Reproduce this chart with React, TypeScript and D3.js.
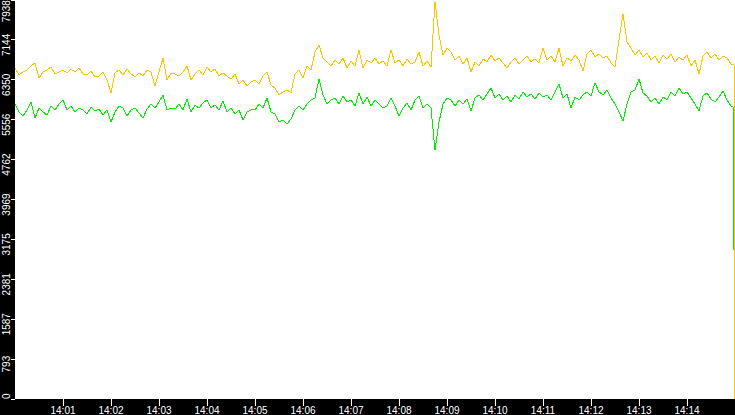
import React, { useEffect } from "react";
import * as d3 from "d3";

const WIDTH = 735;
const HEIGHT = 415;
const STEP_SECONDS = 5;
const START = new Date(2020, 0, 1, 14, 0, 0);
const END = new Date(2020, 0, 1, 14, 15, 0);
const Y_MAX = 7938;

const Y_TICK_VALUES = [0, 793.8, 1587.6, 2381.4, 3175.2, 3969, 4762.8, 5556.6, 6350.4, 7144.2, 7938];
const Y_TICK_LABELS = ["0", "793", "1587", "2381", "3175", "3969", "4762", "5556", "6350", "7144", "7938"];
const X_TICK_LABELS = ["14:01", "14:02", "14:03", "14:04", "14:05", "14:06", "14:07", "14:08", "14:09", "14:10", "14:11", "14:12", "14:13", "14:14"];

// samples every 5 seconds from 14:00:00
const YELLOW = [
  6585, 6446, 6506, 6545, 6625, 6685, 6386, 6506, 6545, 6605,
  6466, 6506, 6545, 6486, 6565, 6506, 6585, 6466, 6446, 6526,
  6406, 6426, 6506, 6347, 6088, 6486, 6545, 6446, 6565, 6466,
  6406, 6486, 6426, 6545, 6506, 6227, 6506, 6784, 6347, 6486,
  6466, 6426, 6506, 6625, 6347, 6466, 6545, 6446, 6605, 6506,
  6565, 6426, 6486, 6426, 6366, 6466, 6267, 6347, 6227, 6307,
  6347, 6267, 6426, 6506, 6247, 6187, 6048, 6108, 6148, 6088,
  6466, 6545, 6386, 6625, 6545, 6904, 7043, 6784, 6705, 6625,
  6744, 6665, 6784, 6585, 6725, 6625, 6943, 6585, 6744, 6685,
  6784, 6665, 6725, 6625, 6943, 6685, 6744, 6625, 6764, 6665,
  6705, 6904, 6625, 6725, 6605, 7898, 7242, 6844, 6983, 6904,
  6744, 6824, 6665, 6784, 6506, 6705, 6625, 6764, 6705, 6844,
  6725, 6784, 6685, 6585, 6705, 6784, 6665, 6744, 6824, 6705,
  6764, 6685, 6983, 6744, 6824, 6705, 6983, 6625, 6784, 6725,
  6844, 6744, 6526, 6864, 6943, 6804, 6864, 6784, 6824, 6685,
  6605, 7142, 7660, 7102, 6983, 6844, 6943, 6804, 6884, 6744,
  6824, 6685, 6844, 6764, 6864, 6705, 6804, 6744, 6844, 6625,
  6744, 6466, 6824, 6904, 6784, 6864, 6744, 6824, 6784, 6665,
];
// last readings before the series drops at the right edge (seconds after 14:00, value)
const YELLOW_TAIL_SECONDS = [899, 899];
const YELLOW_TAIL_VALUES = [6645, 0];

const GREEN = [
  5869, 5710, 5630, 5750, 5909, 5590, 5789, 5710, 5650, 5829,
  5750, 5869, 5949, 5750, 5829, 5710, 5789, 5750, 5670, 5809,
  5730, 5770, 5650, 5750, 5511, 5710, 5829, 5789, 5630, 5750,
  5789, 5690, 5590, 5770, 5869, 5789, 5909, 6048, 5750, 5789,
  5770, 5869, 5750, 5968, 5710, 5849, 5789, 5889, 5949, 5789,
  5849, 5750, 5929, 5710, 5789, 5670, 5750, 5551, 5710, 5750,
  5750, 5869, 5789, 5988, 5710, 5670, 5511, 5551, 5471, 5571,
  5750, 5829, 5750, 5869, 5949, 5988, 6366, 6048, 5869, 5949,
  5988, 5869, 6028, 5909, 5949, 5829, 6088, 5869, 6008, 5829,
  5949, 5869, 5789, 5829, 5988, 5829, 5630, 5789, 5889, 5750,
  5949, 6028, 5789, 5869, 5789, 4954, 5511, 5869, 5988, 5949,
  5829, 5949, 5869, 5968, 5730, 5988, 6048, 5949, 6068, 6187,
  5988, 6068, 5949, 6028, 5909, 6048, 5968, 6108, 6008, 6068,
  5968, 6088, 6008, 6048, 5949, 6108, 6267, 5988, 6068, 5789,
  6008, 5949, 6048, 6108, 6028, 6287, 6108, 6048, 6148, 5988,
  5869, 5710, 5531, 5869, 6108, 6148, 6366, 6088, 6028, 5909,
  5988, 5869, 6008, 5949, 6108, 6028, 6187, 6068, 6108, 5988,
  5869, 5730, 6028, 6088, 5968, 5909, 6008, 6128, 5949, 5829,
];
const GREEN_TAIL_SECONDS = [897.8, 897.8];
const GREEN_TAIL_VALUES = [5809, 2964];

const YELLOW_COLOR = "#ffc400";
const GREEN_COLOR = "#00ee00";

type Pt = [Date, number];

function toPoints(values: number[], tailSec: number[], tailVals: number[]): Pt[] {
  const pts: Pt[] = values.map((v, i) => [new Date(START.getTime() + i * STEP_SECONDS * 1000), v]);
  tailSec.forEach((s, i) => pts.push([new Date(START.getTime() + s * 1000), tailVals[i]]));
  return pts;
}

export default function App() {
  useEffect(() => {
    document.body.style.margin = "0";
  }, []);

  const plotLeft = 15;
  const plotBottom = 399;
  const x = d3.scaleTime().domain([START, END]).range([plotLeft, WIDTH]);
  const y = d3.scaleLinear().domain([0, Y_MAX]).range([plotBottom, 0]);

  const line = d3
    .line<Pt>()
    .x((d) => x(d[0]))
    .y((d) => y(d[1]));

  const yellowPts = toPoints(YELLOW, YELLOW_TAIL_SECONDS, YELLOW_TAIL_VALUES);
  const greenPts = toPoints(GREEN, GREEN_TAIL_SECONDS, GREEN_TAIL_VALUES);

  const xTicks = X_TICK_LABELS.map((lab) => {
    const [h, m] = lab.split(":").map(Number);
    return { lab, t: new Date(2020, 0, 1, h, m, 0) };
  });

  const font = "'Liberation Sans', Arial, sans-serif";

  return (
    <svg
      width={WIDTH}
      height={HEIGHT}
      style={{ position: "absolute", left: 0, top: 0, display: "block" }}
    >
      <rect x={0} y={0} width={WIDTH} height={HEIGHT} fill="#000" />
      <rect x={plotLeft} y={0} width={WIDTH - plotLeft} height={plotBottom} fill="#fff" />

      <path d={line(greenPts) || ""} fill="none" stroke={GREEN_COLOR} strokeWidth={1} shapeRendering="crispEdges" />
      <path d={line(yellowPts) || ""} fill="none" stroke={YELLOW_COLOR} strokeWidth={1} shapeRendering="crispEdges" />

      {Y_TICK_VALUES.map((v, i) => {
        const ty = Math.floor(y(v)) + 0.5;
        const label = Y_TICK_LABELS[i];
        const half = label.length * 2.8;
        let cy = y(v) + 5;
        cy = Math.min(cy, plotBottom - half);
        cy = Math.max(cy, half);
        return (
          <g key={label}>
            <line x1={11} x2={15} y1={ty} y2={ty} stroke="#fff" strokeWidth={1} shapeRendering="crispEdges" />
            <text
              transform={`translate(9.5,${cy}) rotate(-90)`}
              textAnchor="middle"
              fill="#fff"
              fontFamily={font}
              fontSize={10}
            >
              {label}
            </text>
          </g>
        );
      })}

      {xTicks.map(({ lab, t }) => {
        const tx = Math.floor(x(t)) + 0.5;
        return (
          <g key={lab}>
            <line x1={tx} x2={tx} y1={399} y2={406} stroke="#fff" strokeWidth={1} shapeRendering="crispEdges" />
            <text x={x(t)} y={413.5} textAnchor="middle" fill="#fff" fontFamily={font} fontSize={10}>
              {lab}
            </text>
          </g>
        );
      })}
    </svg>
  );
}
